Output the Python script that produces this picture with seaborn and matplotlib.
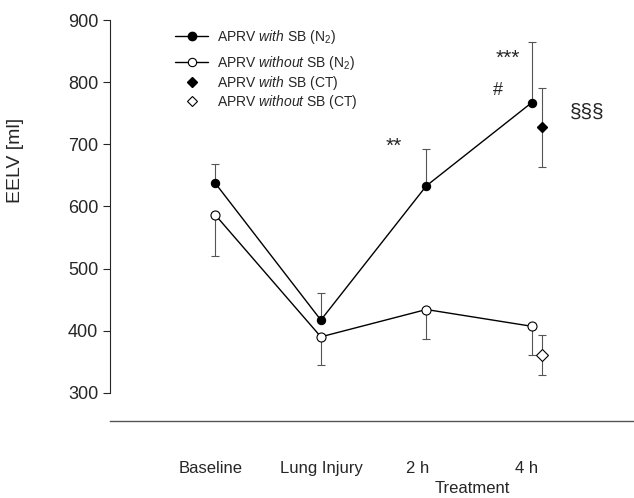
import pandas as pd
import matplotlib.pyplot as plt
import seaborn as sns
from matplotlib.lines import Line2D

# data
timepoints = ['Baseline', 'Lung Injury', '2 h', '4 h']
with_sb = [637, 417, 633, 767]
with_sb_sd = [31, 44, 60, 98]
without_sb = [586, 390, 434, 407]
without_sb_sd = [66, 46, 47, 46]
ct_with_sb = 727
ct_with_sb_sd = 63
ct_without_sb = 361
ct_without_sb_sd = 32

pos = list(range(len(timepoints)))
ct_pos = pos[-1] + 0.10

df = pd.DataFrame({
    'pos': pos * 2,
    'EELV': with_sb + without_sb,
    'group': ['with'] * 4 + ['without'] * 4,
})

sns.set_style('ticks')
plt.rcParams['font.family'] = ['Liberation Sans', 'DejaVu Sans']
plt.rcParams['mathtext.fontset'] = 'custom'
plt.rcParams['mathtext.rm'] = 'Liberation Sans'
plt.rcParams['mathtext.it'] = 'Liberation Sans:italic'

fig = plt.figure(figsize=(6.34, 4.98), dpi=100)
ax = fig.add_axes([0.1735, 0.1552, 0.8265, 0.8046])

err_kw = dict(fmt='none', ecolor='#555555', elinewidth=0.8, capsize=3, capthick=0.8, zorder=1)
# one-sided error bars: with SB upward, without SB downward
ax.errorbar(pos, with_sb, yerr=[[0] * 4, with_sb_sd], **err_kw)
ax.errorbar(pos, without_sb, yerr=[without_sb_sd, [0] * 4], **err_kw)
ax.errorbar([ct_pos], [ct_with_sb], yerr=[[ct_with_sb_sd], [ct_with_sb_sd]], **err_kw)
ax.errorbar([ct_pos], [ct_without_sb], yerr=[[ct_without_sb_sd], [ct_without_sb_sd]], **err_kw)

sns.lineplot(data=df[df.group == 'with'], x='pos', y='EELV', ax=ax, color='black',
             lw=1, marker='o', markersize=6, markerfacecolor='black',
             markeredgecolor='black', zorder=3, legend=False)
sns.lineplot(data=df[df.group == 'without'], x='pos', y='EELV', ax=ax, color='black',
             lw=1, marker='o', markersize=6.5, markerfacecolor='white',
             markeredgecolor='black', markeredgewidth=0.8, zorder=3, legend=False)
ax.plot([ct_pos], [ct_with_sb], marker='D', ms=5.5, color='black', ls='none', zorder=3)
ax.plot([ct_pos], [ct_without_sb], marker='D', ms=6, mfc='white', mec='black',
        mew=0.8, ls='none', zorder=3)

# significance marks
ax.text(1.69, 697, '**', fontsize=15, ha='center', va='center')
ax.text(2.77, 838, '***', fontsize=15, ha='center', va='center')
ax.text(2.68, 787, '#', fontsize=13, ha='center', va='center')
ax.text(3.53, 752, '§§§', fontsize=15, ha='center', va='center')

ax.set_xlim(-1.0, 3.97)
ax.set_ylim(255, 900)
ax.set_yticks([300, 400, 500, 600, 700, 800, 900])
ax.tick_params(axis='y', labelsize=13, length=5, width=0.8, direction='out')
ax.set_xticks([-0.05, 1.01, 1.92, 2.95])
ax.set_xticklabels(timepoints, fontsize=12)
ax.tick_params(axis='x', length=0, pad=29)
ax.set_xlabel('Treatment', fontsize=12)
ax.xaxis.set_label_coords((472 - 110) / 524, -(481 - 420.7) / 400.7)
ax.set_ylabel('EELV [ml]', fontsize=14)
ax.yaxis.set_label_coords((24 - 110) / 524, (420.7 - 160) / 400.7)

for s in ['top', 'right']:
    ax.spines[s].set_visible(False)
ax.spines['left'].set_bounds(300, 900)
ax.spines['left'].set_linewidth(0.8)
ax.spines['bottom'].set_color('#555555')
ax.spines['bottom'].set_linewidth(1.0)

n2_handles = [
    Line2D([], [], color='black', lw=1, marker='o', ms=6, mfc='black'),
    Line2D([], [], color='black', lw=1, marker='o', ms=6, mfc='white', mew=0.8),
]
n2_labels = [r'APRV $\it{with}$ SB (N$_2$)', r'APRV $\it{without}$ SB (N$_2$)']
ct_handles = [
    Line2D([], [], color='black', ls='none', marker='D', ms=5.5),
    Line2D([], [], color='black', ls='none', marker='D', ms=5.5, mfc='white', mew=0.8),
]
ct_labels = [r'APRV $\it{with}$ SB (CT)', r'APRV $\it{without}$ SB (CT)']

leg1 = ax.legend(n2_handles, n2_labels, frameon=False, fontsize=10, loc='upper left',
                 bbox_to_anchor=((168 - 110) / 524, (420.7 - 21) / 400.7),
                 handlelength=2.4, handletextpad=0.6, labelspacing=0.57, borderpad=0)
ax.add_artist(leg1)
ax.legend(ct_handles, ct_labels, frameon=False, fontsize=10, loc='upper left',
          bbox_to_anchor=((168 - 110) / 524, (420.7 - 67) / 400.7),
          handlelength=2.4, handletextpad=0.6, labelspacing=0.05, borderpad=0)

fig.savefig('out.png', dpi=100)
